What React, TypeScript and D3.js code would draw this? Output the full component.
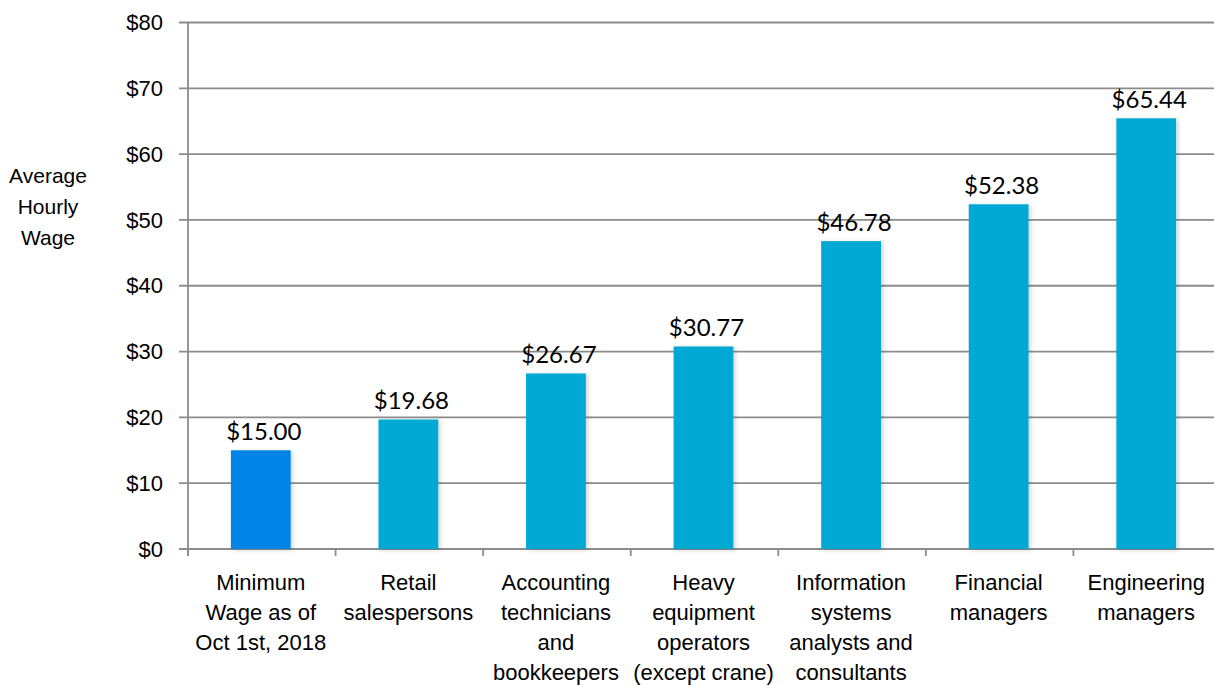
import React from "react";
import * as d3 from "d3";

const categories: string[][] = [
  ["Minimum", "Wage as of", "Oct 1st, 2018"],
  ["Retail", "salespersons"],
  ["Accounting", "technicians", "and", "bookkeepers"],
  ["Heavy", "equipment", "operators", "(except crane)"],
  ["Information", "systems", "analysts and", "consultants"],
  ["Financial", "managers"],
  ["Engineering", "managers"],
];
const wages: number[] = [15.0, 19.68, 26.67, 30.77, 46.78, 52.38, 65.44];
const barColors: string[] = ["#0084E6", "#00A9D4", "#00A9D4", "#00A9D4", "#00A9D4", "#00A9D4", "#00A9D4"];
const yTicks: number[] = [0, 10, 20, 30, 40, 50, 60, 70, 80];
const yTitle: string[] = ["Average", "Hourly", "Wage"];

const W = 1214;
const H = 685;
const left = 188;
const right = 1221;
const top = 22.5;
const bottom = 549;
const axisFont = "'Liberation Sans', Arial, sans-serif";
const valueFont = "Lato, 'Open Sans', sans-serif";
const gridColor = "#8c8c8c";

export default function App() {
  const idx = categories.map((_, i) => String(i));
  const x = d3.scaleBand<string>().domain(idx).range([left, right]).paddingInner(0).paddingOuter(0);
  const y = d3.scaleLinear().domain([0, 80]).range([bottom, top]);
  const bw = x.bandwidth() * 0.405;
  const fmt = (v: number) => "$" + d3.format(".2f")(v);

  return (
    <svg width={W} height={H} style={{ position: "absolute", left: 0, top: 0, background: "#fff" }}>
      <defs>
        <filter id="sh" x="-20%" y="-20%" width="140%" height="140%">
          <feDropShadow dx="2" dy="1" stdDeviation="2" floodColor="#000" floodOpacity="0.18" />
        </filter>
      </defs>
      {yTicks.map((t) => (
        <g key={t}>
          <line x1={left - 9} x2={W} y1={y(t)} y2={y(t)} stroke={gridColor} strokeWidth={1.8} />
          <text
            x={163}
            y={y(t)}
            dy="0.35em"
            textAnchor="end"
            fontFamily={axisFont}
            fontSize={22}
            fill="#000"
          >
            {"$" + t}
          </text>
        </g>
      ))}
      <line x1={left} x2={left} y1={top} y2={bottom + 7} stroke={gridColor} strokeWidth={1.8} />
      {idx.map((d) => (
        <line
          key={"t" + d}
          x1={x(d)!}
          x2={x(d)!}
          y1={bottom}
          y2={bottom + 7}
          stroke={gridColor}
          strokeWidth={1.8}
        />
      ))}
      {wages.map((v, i) => {
        const cx = x(String(i))! + x.bandwidth() / 2 - 1;
        return (
          <g key={"b" + i}>
            <rect
              x={cx - bw / 2}
              y={y(v)}
              width={bw}
              height={bottom - y(v)}
              fill={barColors[i]}
              filter="url(#sh)"
            />
            <text
              x={cx + 3}
              y={y(v) - 10}
              textAnchor="middle"
              fontFamily={valueFont}
              fontSize={24}
              fill="#000"
            >
              {fmt(v)}
            </text>
          </g>
        );
      })}
      {categories.map((lines, i) => {
        const cx = x(String(i))! + x.bandwidth() / 2 - 1;
        return (
          <text key={"c" + i} textAnchor="middle" fontFamily={axisFont} fontSize={22} fill="#000">
            {lines.map((l, j) => (
              <tspan key={j} x={cx} y={590 + j * 30}>
                {l}
              </tspan>
            ))}
          </text>
        );
      })}
      <text textAnchor="middle" fontFamily={axisFont} fontSize={21} fill="#000">
        {yTitle.map((l, j) => (
          <tspan key={j} x={48} y={183 + j * 31}>
            {l}
          </tspan>
        ))}
      </text>
    </svg>
  );
}
